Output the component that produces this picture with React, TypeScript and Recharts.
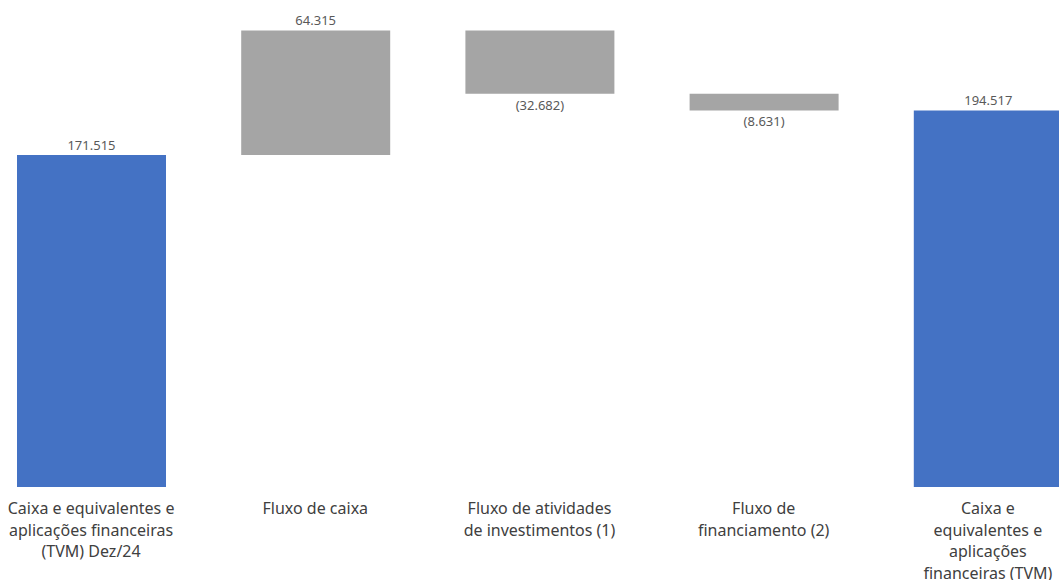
import { Bar, BarChart, Cell, LabelList, XAxis, YAxis } from "recharts";

// categories (line breaks as in the source chart)
const categories = [
  "Caixa e equivalentes e\naplicações financeiras\n(TVM) Dez/24",
  "Fluxo de caixa",
  "Fluxo de atividades\nde investimentos (1)",
  "Fluxo de\nfinanciamento (2)",
  "Caixa e\nequivalentes e\naplicações\nfinanceiras (TVM)",
];
const values = [171515, 64315, -32682, -8631, 194517];
const isTotal = [true, false, false, false, true];

const TOTAL_COLOR = "#4472C4";
const DELTA_COLOR = "#A5A5A5";

let running = 0;
const data = categories.map((name, i) => {
  const v = values[i];
  let base = 0;
  let size = v;
  if (isTotal[i]) {
    running = v;
  } else {
    const next = running + v;
    base = Math.min(running, next);
    size = Math.abs(v);
    running = next;
  }
  return { name, base, size, value: v, total: isTotal[i] };
});

const fmt = (v: number) => {
  const s = String(Math.abs(v)).replace(/\B(?=(\d{3})+(?!\d))/g, ".");
  return v < 0 ? `(${s})` : s;
};

const CategoryTick = (props: any) => {
  const { x, y, payload } = props;
  const lines = String(payload.value).split("\n");
  return (
    <text x={x} y={y} textAnchor="middle" fill="#404040" fontSize={16} fontFamily="Noto Sans">
      {lines.map((l, i) => (
        <tspan key={i} x={x} dy={i === 0 ? 27 : 21.7}>
          {l}
        </tspan>
      ))}
    </text>
  );
};

const ValueLabel = (props: any) => {
  const { x, y, width, height, index } = props;
  const v = values[index];
  const cx = x + width / 2;
  const ty = v < 0 ? y + height + 16 : y - 5;
  return (
    <text x={cx} y={ty} textAnchor="middle" fill="#595959" fontSize={13} fontFamily="Noto Sans">
      {fmt(v)}
    </text>
  );
};

export default function App() {
  return (
    <div style={{ position: "fixed", left: 0, top: 0, width: 1059, height: 580, overflow: "hidden", background: "#fff" }}>
      <div style={{ position: "absolute", left: -21, top: 0 }}>
        <BarChart
          width={1121}
          height={580}
          data={data}
          margin={{ top: 3, right: 0, bottom: 0, left: 0 }}
          barSize={149}
        >
          <XAxis
            dataKey="name"
            interval={0}
            axisLine={false}
            tickLine={false}
            tickSize={0}
            tickMargin={0}
            height={93}
            tick={<CategoryTick />}
          />
          <YAxis hide domain={[0, 250000]} />
          <Bar dataKey="base" stackId="w" fill="transparent" isAnimationActive={false} />
          <Bar dataKey="size" stackId="w" isAnimationActive={false}>
            {data.map((d, i) => (
              <Cell key={i} fill={d.total ? TOTAL_COLOR : DELTA_COLOR} />
            ))}
            <LabelList dataKey="size" content={<ValueLabel />} />
          </Bar>
        </BarChart>
      </div>
    </div>
  );
}
